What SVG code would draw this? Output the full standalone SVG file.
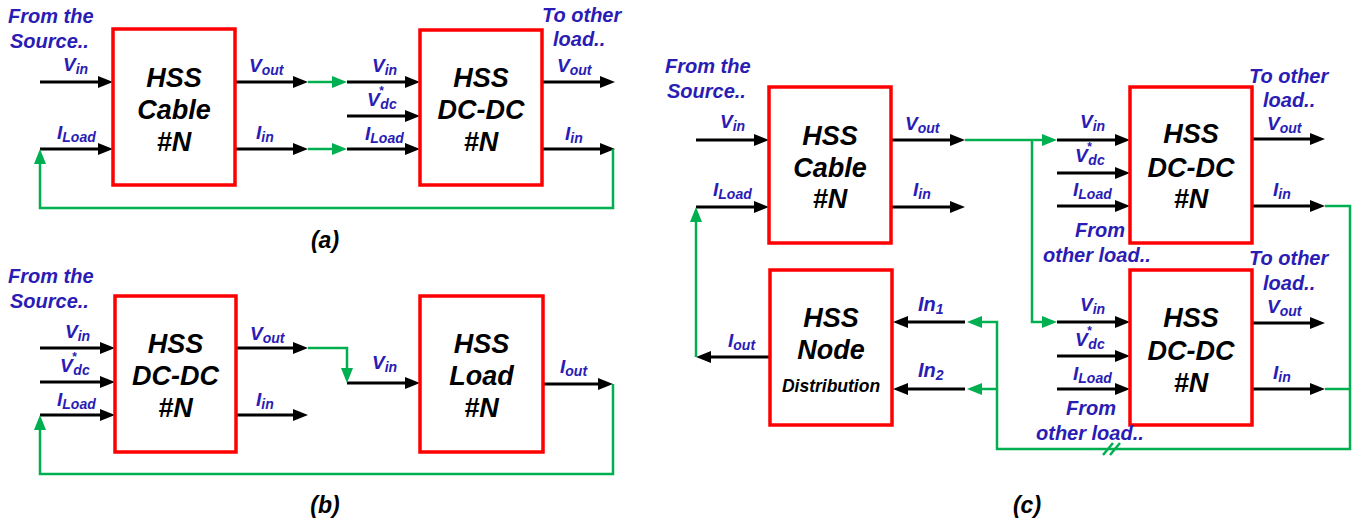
<svg xmlns="http://www.w3.org/2000/svg" width="1368" height="524" viewBox="0 0 1368 524">
<style>
.box{fill:#fff;stroke:#ff0000;stroke-width:3.5}
.bt{font-family:"Liberation Sans",Arial,sans-serif;font-weight:bold;font-style:italic;font-size:27px;text-anchor:middle;fill:#000}
.dist{font-size:17.5px}
.lb{font-family:"Liberation Sans",Arial,sans-serif;font-weight:bold;font-style:italic;font-size:19px;fill:#2a1cb4}
.big{font-size:20px}
.nt{font-family:"Liberation Sans",Arial,sans-serif;font-weight:bold;font-style:italic;font-size:20px;fill:#2a1cb4}
.cap{font-family:"Liberation Sans",Arial,sans-serif;font-weight:bold;font-style:italic;font-size:23px;text-anchor:middle;fill:#000}
.sub{font-size:14px}
.st{font-size:12px}
.k{stroke:#000;stroke-width:3;fill:none;marker-end:url(#ak)}
.g{stroke:#00b050;stroke-width:2.5;fill:none}
.ga{stroke:#00b050;stroke-width:2.5;fill:none;marker-end:url(#ag)}
</style>
<defs>
<marker id="ak" markerUnits="userSpaceOnUse" markerWidth="16" markerHeight="12" refX="7" refY="6" orient="auto"><path d="M0,0 L15,6 L0,12 z" fill="#000"/></marker>
<marker id="ag" markerUnits="userSpaceOnUse" markerWidth="16" markerHeight="12" refX="7" refY="6" orient="auto"><path d="M0,0 L15,6 L0,12 z" fill="#00b050"/></marker>
</defs>
<rect width="1368" height="524" fill="#fff"/>

<g id="connectors">
<path class="k" d="M40,82 H105"/>
<path class="k" d="M40,149 H105"/>
<path class="k" d="M235,82 H300"/>
<path class="k" d="M235,149 H300"/>
<path class="k" d="M347,82 H412"/>
<path class="k" d="M347,116 H412"/>
<path class="k" d="M347,149 H412"/>
<path class="k" d="M542,82 H607"/>
<path class="k" d="M542,149 H607"/>
<path class="ga" d="M308,82 H339"/>
<path class="ga" d="M308,149 H339"/>
<path class="ga" d="M613,149 V208 H40 V157"/>
<path class="k" d="M40,348 H107"/>
<path class="k" d="M40,382 H107"/>
<path class="k" d="M40,415 H107"/>
<path class="k" d="M236,348 H300"/>
<path class="k" d="M236,415 H300"/>
<path class="k" d="M347,383 H412"/>
<path class="k" d="M543,384 H605"/>
<path class="ga" d="M308,348 H347 V375"/>
<path class="ga" d="M613,384 V474 H40 V423"/>
<path class="k" d="M696,140 H761"/>
<path class="k" d="M696,207 H761"/>
<path class="k" d="M891,140 H957"/>
<path class="k" d="M891,207 H957"/>
<path class="k" d="M1057,140 H1122"/>
<path class="k" d="M1057,173 H1122"/>
<path class="k" d="M1057,206 H1122"/>
<path class="k" d="M1252,139 H1317"/>
<path class="k" d="M1252,206 H1317"/>
<path class="k" d="M1057,322 H1122"/>
<path class="k" d="M1057,356 H1122"/>
<path class="k" d="M1057,389 H1122"/>
<path class="k" d="M1252,323 H1317"/>
<path class="k" d="M1252,389 H1317"/>
<path class="k" d="M965,322 H901"/>
<path class="k" d="M965,389 H901"/>
<path class="k" d="M770,357 H704"/>
<path class="ga" d="M965,140 H1049"/>
<path class="ga" d="M1032,140 V322 H1049"/>
<path class="ga" d="M1325,206 H1350 V449 H997 V322 H975"/>
<path class="g" d="M1325,389 H1350"/>
<path class="ga" d="M997,389 H975"/>
<path class="ga" d="M696,357 V215"/>
<path class="g" d="M1103,455 L1113,443 M1110,455 L1120,443"/>
</g>

<g id="a-cable">
<rect class="box" x="113" y="29" width="122" height="156"/>
<text class="bt" x="174" y="87">HSS</text>
<text class="bt" x="174" y="119">Cable</text>
<text class="bt" x="174" y="151">#N</text>
</g>
<g id="a-dcdc">
<rect class="box" x="420" y="30" width="122" height="155"/>
<text class="bt" x="481" y="87">HSS</text>
<text class="bt" x="481" y="119">DC-DC</text>
<text class="bt" x="481" y="151">#N</text>
</g>
<g id="b-dcdc">
<rect class="box" x="115" y="296" width="121" height="156"/>
<text class="bt" x="175.5" y="353">HSS</text>
<text class="bt" x="175.5" y="385">DC-DC</text>
<text class="bt" x="175.5" y="417">#N</text>
</g>
<g id="b-load">
<rect class="box" x="420" y="296" width="123" height="156"/>
<text class="bt" x="481.5" y="353">HSS</text>
<text class="bt" x="481.5" y="385">Load</text>
<text class="bt" x="481.5" y="417">#N</text>
</g>
<g id="c-cable">
<rect class="box" x="769" y="87" width="122" height="156"/>
<text class="bt" x="830" y="145">HSS</text>
<text class="bt" x="830" y="177">Cable</text>
<text class="bt" x="830" y="208">#N</text>
</g>
<g id="c-node">
<rect class="box" x="770" y="270" width="122" height="155"/>
<text class="bt" x="831" y="327">HSS</text>
<text class="bt" x="831" y="359">Node</text>
<text class="bt dist" x="831" y="392">Distribution</text>
</g>
<g id="c-dcdc1">
<rect class="box" x="1130" y="87" width="122" height="156"/>
<text class="bt" x="1191" y="143">HSS</text>
<text class="bt" x="1191" y="177">DC-DC</text>
<text class="bt" x="1191" y="208">#N</text>
</g>
<g id="c-dcdc2">
<rect class="box" x="1130" y="270" width="122" height="155"/>
<text class="bt" x="1191" y="327">HSS</text>
<text class="bt" x="1191" y="360">DC-DC</text>
<text class="bt" x="1191" y="392">#N</text>
</g>

<g id="labels">
<text class="nt" x="8" y="23">From the</text>
<text class="nt" x="10" y="48">Source..</text>
<text class="lb" x="63" y="71">V<tspan class="sub" dy="3">in</tspan></text>
<text class="lb" x="57" y="139">I<tspan class="sub" dy="3">Load</tspan></text>
<text class="lb" x="249" y="72">V<tspan class="sub" dy="3">out</tspan></text>
<text class="lb" x="256" y="139">I<tspan class="sub" dy="3">in</tspan></text>
<text class="lb" x="372" y="72">V<tspan class="sub" dy="3">in</tspan></text>
<text class="lb" x="367" y="106">V<tspan class="st" dx="-1" dy="-11">*</tspan><tspan class="sub" dx="-3" dy="14">dc</tspan></text>
<text class="lb" x="365" y="140">I<tspan class="sub" dy="3">Load</tspan></text>
<text class="nt" x="542" y="22">To other</text>
<text class="nt" x="553" y="46">load..</text>
<text class="lb" x="557" y="72">V<tspan class="sub" dy="3">out</tspan></text>
<text class="lb" x="565" y="140">I<tspan class="sub" dy="3">in</tspan></text>
<text class="cap" x="325" y="248">(a)</text>
<text class="nt" x="8" y="283">From the</text>
<text class="nt" x="10" y="308">Source..</text>
<text class="lb" x="65" y="338">V<tspan class="sub" dy="3">in</tspan></text>
<text class="lb" x="60" y="372">V<tspan class="st" dx="-1" dy="-11">*</tspan><tspan class="sub" dx="-3" dy="14">dc</tspan></text>
<text class="lb" x="57" y="406">I<tspan class="sub" dy="3">Load</tspan></text>
<text class="lb" x="250" y="340">V<tspan class="sub" dy="3">out</tspan></text>
<text class="lb" x="256" y="406">I<tspan class="sub" dy="3">in</tspan></text>
<text class="lb" x="372" y="369">V<tspan class="sub" dy="3">in</tspan></text>
<text class="lb" x="560" y="373">I<tspan class="sub" dy="3">out</tspan></text>
<text class="cap" x="325" y="513">(b)</text>
<text class="nt" x="665" y="73">From the</text>
<text class="nt" x="667" y="98">Source..</text>
<text class="lb" x="720" y="128">V<tspan class="sub" dy="3">in</tspan></text>
<text class="lb" x="713" y="196">I<tspan class="sub" dy="3">Load</tspan></text>
<text class="lb" x="905" y="130">V<tspan class="sub" dy="3">out</tspan></text>
<text class="lb" x="913" y="196">I<tspan class="sub" dy="3">in</tspan></text>
<text class="lb" x="728" y="347">I<tspan class="sub" dy="3">out</tspan></text>
<text class="lb big" x="918" y="311">In<tspan class="sub" dy="3">1</tspan></text>
<text class="lb big" x="918" y="377">In<tspan class="sub" dy="3">2</tspan></text>
<text class="lb" x="1080" y="128">V<tspan class="sub" dy="3">in</tspan></text>
<text class="lb" x="1075" y="162">V<tspan class="st" dx="-1" dy="-11">*</tspan><tspan class="sub" dx="-3" dy="14">dc</tspan></text>
<text class="lb" x="1073" y="196">I<tspan class="sub" dy="3">Load</tspan></text>
<text class="nt" x="1075" y="237">From</text>
<text class="nt" x="1043" y="262">other load..</text>
<text class="nt" x="1249" y="83">To other</text>
<text class="nt" x="1263" y="107">load..</text>
<text class="lb" x="1267" y="130">V<tspan class="sub" dy="3">out</tspan></text>
<text class="lb" x="1273" y="196">I<tspan class="sub" dy="3">in</tspan></text>
<text class="lb" x="1080" y="311">V<tspan class="sub" dy="3">in</tspan></text>
<text class="lb" x="1075" y="346">V<tspan class="st" dx="-1" dy="-11">*</tspan><tspan class="sub" dx="-3" dy="14">dc</tspan></text>
<text class="lb" x="1073" y="380">I<tspan class="sub" dy="3">Load</tspan></text>
<text class="nt" x="1066" y="415">From</text>
<text class="nt" x="1036" y="440">other load..</text>
<text class="nt" x="1249" y="265">To other</text>
<text class="nt" x="1263" y="290">load..</text>
<text class="lb" x="1267" y="313">V<tspan class="sub" dy="3">out</tspan></text>
<text class="lb" x="1273" y="379">I<tspan class="sub" dy="3">in</tspan></text>
<text class="cap" x="1027" y="513">(c)</text>
</g>
</svg>
